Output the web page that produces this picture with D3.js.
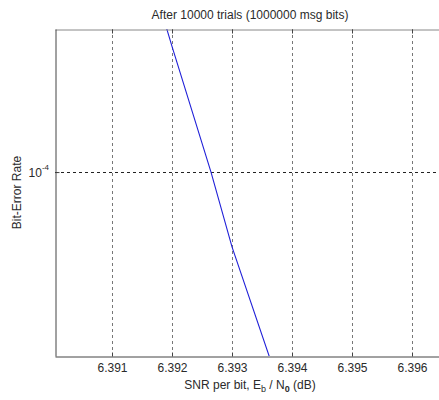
<!DOCTYPE html>
<html>
<head>
<meta charset="utf-8">
<script src="https://cdn.jsdelivr.net/npm/d3@7"></script>
<style>
body { margin: 0; background: #fff; }
text { font-family: "Liberation Sans", Arial, sans-serif; font-size: 12px; fill: #2a2a2a; }
</style>
</head>
<body>
<script>
var snr = [6.391, 6.392, 6.39265, 6.393, 6.394];
var ber = [6.27e-4, 2.03e-4, 1.0e-4, 6.56e-5, 2.43e-5];
var xTicks = [6.391, 6.392, 6.393, 6.394, 6.395, 6.396];
var yTicks = [1e-4];

var svg = d3.select("body").append("svg")
            .attr("width", 439)
            .attr("height", 400);

var pLeft = 55, pRight = 445, pTop = 29, pBottom = 356;

var x = d3.scaleLinear().domain([6.39005, 6.39655]).range([pLeft, pRight]);
var y = d3.scaleLog().domain([Math.pow(10, -4.45), Math.pow(10, -3.65)]).range([pBottom, pTop]);

// grid
svg.selectAll("line.vgrid")
    .data(xTicks)
    .enter().append("line")
    .attr("x1", function(d) {return Math.round(x(d)) + 0.5;})
    .attr("x2", function(d) {return Math.round(x(d)) + 0.5;})
    .attr("y1", pTop).attr("y2", pBottom)
    .attr("stroke", "#777")
    .attr("stroke-dasharray", "3,3");

svg.selectAll("line.hgrid")
    .data(yTicks)
    .enter().append("line")
    .attr("x1", pLeft).attr("x2", pRight)
    .attr("y1", function(d) {return Math.round(y(d)) + 0.5;})
    .attr("y2", function(d) {return Math.round(y(d)) + 0.5;})
    .attr("stroke", "#222")
    .attr("stroke-dasharray", "3,3");

// data line
svg.append("clipPath").attr("id", "clip")
    .append("rect").attr("x", pLeft).attr("y", pTop)
    .attr("width", pRight - pLeft).attr("height", pBottom - pTop);

var line = d3.line()
    .x(function(d, i) {return x(snr[i]);})
    .y(function(d, i) {return y(ber[i]);});

svg.append("path")
    .datum(ber)
    .attr("d", line)
    .attr("clip-path", "url(#clip)")
    .attr("fill", "none")
    .attr("stroke", "#2020d8")
    .attr("stroke-width", 1.1);

// axes box
var xAxisB = d3.axisBottom(x).tickValues(xTicks).tickSizeInner(-4).tickSizeOuter(0).tickPadding(7)
    .tickFormat(d3.format(".3f"));
var gx = svg.append("g").attr("transform", "translate(0," + (pBottom + 0.5) + ")").call(xAxisB);
var xAxisT = d3.axisTop(x).tickValues(xTicks).tickSizeInner(-4).tickSizeOuter(0).tickFormat("");
var gt = svg.append("g").attr("transform", "translate(0," + (pTop + 0.5) + ")").call(xAxisT);
var yAxisL = d3.axisLeft(y).tickValues(yTicks).tickSizeInner(-4).tickSizeOuter(0).tickFormat("");
var gy = svg.append("g").attr("transform", "translate(" + (pLeft + 0.5) + ",0)").call(yAxisL);

[gx, gt, gy].forEach(function(g) {
  g.select(".domain").attr("stroke", "#444");
  g.selectAll(".tick line").attr("stroke", "#444");
  g.selectAll(".tick text").style("font-family", "'Liberation Sans', Arial, sans-serif")
    .style("font-size", "12px").attr("fill", "#2a2a2a");
});
gt.select(".domain").attr("stroke", "#888");

// y tick label 10^-4
yTicks.forEach(function(d) {
  var t = svg.append("text")
      .attr("x", pLeft - 6)
      .attr("y", y(d) + 5)
      .attr("text-anchor", "end");
  t.append("tspan").text("10");
  t.append("tspan").attr("dy", -7).style("font-size", "8px").text("-4");
});

// title
svg.append("text")
    .attr("x", 250).attr("y", 19)
    .attr("text-anchor", "middle")
    .text("After 10000 trials (1000000 msg bits)");

// x label
var xl = svg.append("text")
    .attr("x", 250).attr("y", 389)
    .attr("text-anchor", "middle");
xl.append("tspan").text("SNR per bit, E");
xl.append("tspan").attr("dy", 3).style("font-size", "9px").text("b");
xl.append("tspan").attr("dy", -3).text(" / N");
xl.append("tspan").attr("dy", 3).style("font-size", "9px").style("font-weight", "bold").text("0");
xl.append("tspan").attr("dy", -3).text(" (dB)");

// y label
svg.append("text")
    .attr("transform", "translate(21," + ((pTop + pBottom) / 2) + ") rotate(-90)")
    .attr("text-anchor", "middle")
    .text("Bit-Error Rate");
</script>
</body>
</html>
